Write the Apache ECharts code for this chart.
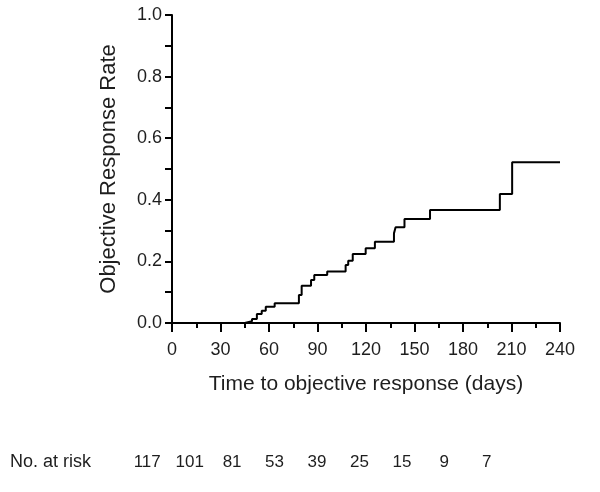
<!DOCTYPE html>
<html>
<head>
<meta charset="utf-8">
<script src="https://cdn.jsdelivr.net/npm/echarts@6/dist/echarts.min.js"></script>
<style>
html,body{margin:0;padding:0;background:#fff;}
#chart{width:600px;height:492px;}
</style>
</head>
<body>
<div id="chart"></div>
<script>
// Step curve: time (days) at each step, and cumulative objective response rate
const days  = [0, 45, 49.5, 52.5, 55.5, 58, 63.5, 78.5, 80.2, 86, 88, 96, 107.4, 109, 111.8, 119.8, 125.5, 137.3, 138.3, 143.8, 159.6, 202.8, 210.4, 240];
const rates = [0, 0.006, 0.013, 0.029, 0.040, 0.053, 0.064, 0.091, 0.121, 0.140, 0.156, 0.167, 0.188, 0.202, 0.224, 0.243, 0.264, 0.291, 0.311, 0.338, 0.367, 0.419, 0.522, 0.522];
// Number at risk row
const riskCounts = ['117', '101', '81', '53', '39', '25', '15', '9', '7'];
const riskLabel = 'No. at risk';

const FONT = 'Arial, "Liberation Sans", sans-serif';
const TXT = '#1e1e1e';

const chart = echarts.init(document.getElementById('chart'), null, {renderer: 'canvas'});
const curve = days.map((d, i) => [d, rates[i]]);

chart.setOption({
  animation: false,
  backgroundColor: '#ffffff',
  grid: [
    {left: 172, right: 40, top: 15, height: 308, containLabel: false},
    {left: 126, width: 382, top: 444, height: 1, containLabel: false}
  ],
  xAxis: [
    {
      type: 'value', gridIndex: 0, min: 0, max: 240, interval: 30,
      name: 'Time to objective response (days)', nameLocation: 'middle', nameGap: 51,
      nameTextStyle: {fontFamily: FONT, fontSize: 21, color: TXT},
      axisLine: {show: true, lineStyle: {color: '#000', width: 2}},
      axisTick: {show: true, length: 9, lineStyle: {color: '#000', width: 2}},
      minorTick: {show: true, splitNumber: 2, length: 5, lineStyle: {color: '#000', width: 2}},
      axisLabel: {fontFamily: FONT, fontSize: 18, color: TXT, margin: 18},
      splitLine: {show: false}
    },
    {
      type: 'category', gridIndex: 1, data: riskCounts, position: 'bottom',
      axisLine: {show: false}, axisTick: {show: false},
      axisLabel: {fontFamily: FONT, fontSize: 17, color: TXT, margin: 9, interval: 0},
      splitLine: {show: false}
    }
  ],
  yAxis: [
    {
      type: 'value', gridIndex: 0, min: 0, max: 1, interval: 0.2,
      name: 'Objective Response Rate', nameLocation: 'middle', nameGap: 52,
      nameTextStyle: {fontFamily: FONT, fontSize: 22, color: TXT},
      axisLine: {show: true, lineStyle: {color: '#000', width: 2}},
      axisTick: {show: true, length: 7, lineStyle: {color: '#000', width: 2}},
      minorTick: {show: true, splitNumber: 2, length: 7, lineStyle: {color: '#000', width: 2}},
      axisLabel: {fontFamily: FONT, fontSize: 18, color: TXT, margin: 10, formatter: v => v.toFixed(1)},
      splitLine: {show: false}
    },
    {
      type: 'value', gridIndex: 1, show: false, min: 0, max: 1
    }
  ],
  graphic: [
    {
      type: 'text', left: 10, top: 453,
      style: {text: riskLabel, fontFamily: FONT, fontSize: 18, fill: TXT}
    }
  ],
  series: [
    {
      type: 'line', xAxisIndex: 0, yAxisIndex: 0, step: 'end',
      data: curve, showSymbol: false, symbol: 'none',
      lineStyle: {color: '#000', width: 2}
    }
  ]
});
</script>
</body>
</html>
